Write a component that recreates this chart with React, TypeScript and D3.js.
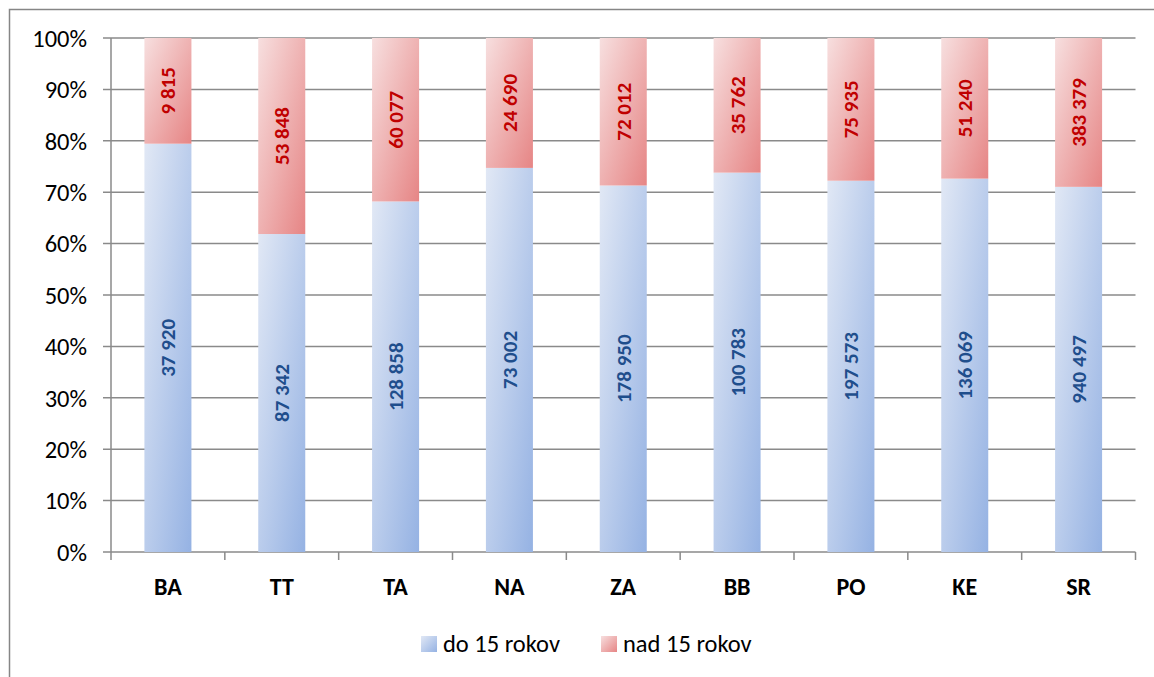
import React from "react";
import * as d3 from "d3";

const categories = ["BA", "TT", "TA", "NA", "ZA", "BB", "PO", "KE", "SR"];
const youngValues = [37920, 87342, 128858, 73002, 178950, 100783, 197573, 136069, 940497];
const oldValues = [9815, 53848, 60077, 24690, 72012, 35762, 75935, 51240, 383379];
const yTicks = [0, 0.1, 0.2, 0.3, 0.4, 0.5, 0.6, 0.7, 0.8, 0.9, 1];
const seriesNames = ["do 15 rokov", "nad 15 rokov"];

const W = 1154;
const H = 677;
const FONT = "Carlito, Lato, 'Open Sans', sans-serif";

export default function App() {
  const x = d3
    .scaleBand<string>()
    .domain(categories)
    .range([111, 1135.5])
    .paddingInner(0.587)
    .paddingOuter(0.2935);
  const y = d3.scaleLinear().domain([0, 1]).range([552, 38]);
  const fmt = (v: number) => d3.format(",")(v).replace(/,/g, " ");
  const pct = d3.format(".0%");
  const step = x.step();
  const boundaries = d3.range(categories.length + 1).map((i) => 111 + i * step);

  return (
    <svg
      width={W}
      height={H}
      style={{ position: "absolute", left: 0, top: 0, display: "block" }}
    >
      <defs>
        <linearGradient id="gBlue" x1="0" y1="0" x2="1" y2="1">
          <stop offset="0" stopColor="#e1e8f5" />
          <stop offset="1" stopColor="#95b2e3" />
        </linearGradient>
        <linearGradient id="gRed" x1="0" y1="0" x2="1" y2="1">
          <stop offset="0" stopColor="#f7dfdf" />
          <stop offset="1" stopColor="#e68585" />
        </linearGradient>
      </defs>
      <rect x={0} y={0} width={W} height={H} fill="#fff" />
      <rect x={9.5} y={9.5} width={1300} height={800} fill="none" stroke="#868686" strokeWidth={1.5} />

      {/* gridlines */}
      {yTicks.map((t) => (
        <g key={t}>
          <line x1={103} x2={1135.5} y1={y(t)} y2={y(t)} stroke="#8a8a8a" strokeWidth={1.5} />
          <text
            x={87}
            y={y(t)}
            dy="0.36em"
            textAnchor="end"
            fontFamily={FONT}
            fontSize={24.5}
            fill="#000"
          >
            {pct(t)}
          </text>
        </g>
      ))}
      {/* y axis */}
      <line x1={111} x2={111} y1={38} y2={552} stroke="#8a8a8a" strokeWidth={1.5} />
      {/* x ticks */}
      {boundaries.map((b, i) => (
        <line key={i} x1={b} x2={b} y1={552} y2={560} stroke="#8a8a8a" strokeWidth={1.5} />
      ))}

      {/* bars */}
      {categories.map((c, i) => {
        const total = youngValues[i] + oldValues[i];
        const share = youngValues[i] / total;
        const bx = x(c)!;
        const bw = x.bandwidth();
        const yTop = y(share);
        const cx = bx + bw / 2;
        const blueMid = (y(0) + yTop) / 2;
        const redMid = (yTop + y(1)) / 2;
        return (
          <g key={c}>
            <rect x={bx} y={yTop} width={bw} height={y(0) - yTop} fill="url(#gBlue)" />
            <rect x={bx} y={y(1)} width={bw} height={yTop - y(1)} fill="url(#gRed)" />
            <text
              transform={`translate(${cx},${blueMid}) rotate(-90)`}
              textAnchor="middle"
              dy="0.36em"
              fontFamily={FONT}
              fontWeight="bold"
              fontSize={21}
              fill="#1f4e8c"
            >
              {fmt(youngValues[i])}
            </text>
            <text
              transform={`translate(${cx},${redMid}) rotate(-90)`}
              textAnchor="middle"
              dy="0.36em"
              fontFamily={FONT}
              fontWeight="bold"
              fontSize={21}
              fill="#c00000"
            >
              {fmt(oldValues[i])}
            </text>
            <text
              x={cx}
              y={595}
              textAnchor="middle"
              fontFamily={FONT}
              fontWeight="bold"
              fontSize={24}
              fill="#000"
            >
              {c}
            </text>
          </g>
        );
      })}

      {/* legend */}
      <rect x={421} y={636} width={16} height={16} fill="url(#gBlue)" />
      <text x={443} y={652} fontFamily={FONT} fontSize={24.5} fill="#000">
        {seriesNames[0]}
      </text>
      <rect x={601} y={636} width={16} height={16} fill="url(#gRed)" />
      <text x={623} y={652} fontFamily={FONT} fontSize={24.5} fill="#000">
        {seriesNames[1]}
      </text>
    </svg>
  );
}
